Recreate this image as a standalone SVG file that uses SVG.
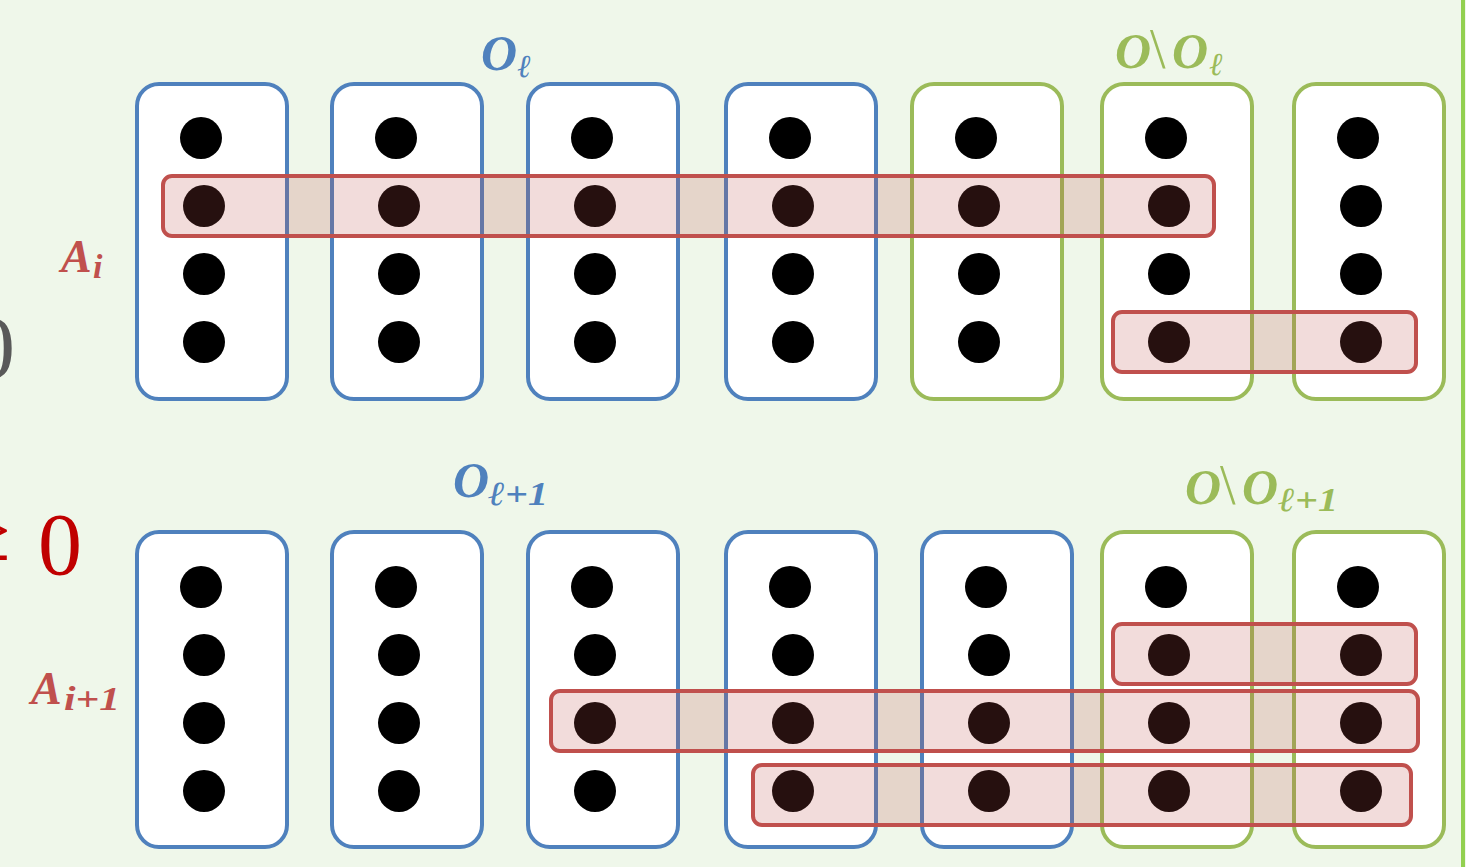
<svg xmlns="http://www.w3.org/2000/svg" width="1466" height="867" viewBox="0 0 1466 867">
<style>
.col{fill:#fff;stroke-width:4}
.b{stroke:#4F81BD}
.g{stroke:#9BBB59}
.hl{fill:#C0504D;fill-opacity:0.2;stroke:#C0504D;stroke-width:4}
.d{fill:#000}
.lab{font-family:"Liberation Serif",serif;font-weight:bold;font-style:italic}
.bs{font-style:normal;font-weight:normal;font-size:56px}
</style>
<defs>
<g id="dots4">
<circle cx="64" cy="0" r="21" class="d"/>
<circle cx="67" cy="68" r="21" class="d"/>
<circle cx="67" cy="136" r="21" class="d"/>
<circle cx="67" cy="204" r="21" class="d"/>
</g>
</defs>
<rect width="1466" height="867" fill="#EFF7EA"/>
<rect x="1461" y="0" width="4" height="867" fill="#92D050"/>
<text x="-29" y="377" font-family="Liberation Serif,serif" font-size="88" fill="#595959">0</text>
<text x="-38" y="560" font-family="Liberation Serif,serif" font-size="88" fill="#C00000">≥</text>
<text x="38" y="574" font-family="Liberation Serif,serif" font-size="88" fill="#C00000">0</text>

<g id="top-row">
<g id="t1"><rect x="137" y="84" width="150" height="315" rx="22" class="col b"/><use href="#dots4" x="137" y="138"/></g>
<g id="t2"><rect x="332" y="84" width="150" height="315" rx="22" class="col b"/><use href="#dots4" x="332" y="138"/></g>
<g id="t3"><rect x="528" y="84" width="150" height="315" rx="22" class="col b"/><use href="#dots4" x="528" y="138"/></g>
<g id="t4"><rect x="726" y="84" width="150" height="315" rx="22" class="col b"/><use href="#dots4" x="726" y="138"/></g>
<g id="t5"><rect x="912" y="84" width="150" height="315" rx="22" class="col g"/><use href="#dots4" x="912" y="138"/></g>
<g id="t6"><rect x="1102" y="84" width="150" height="315" rx="22" class="col g"/><use href="#dots4" x="1102" y="138"/></g>
<g id="t7"><rect x="1294" y="84" width="150" height="315" rx="22" class="col g"/><use href="#dots4" x="1294" y="138"/></g>
</g>

<g id="bottom-row">
<g id="b1"><rect x="137" y="532" width="150" height="315" rx="22" class="col b"/><use href="#dots4" x="137" y="587"/></g>
<g id="b2"><rect x="332" y="532" width="150" height="315" rx="22" class="col b"/><use href="#dots4" x="332" y="587"/></g>
<g id="b3"><rect x="528" y="532" width="150" height="315" rx="22" class="col b"/><use href="#dots4" x="528" y="587"/></g>
<g id="b4"><rect x="726" y="532" width="150" height="315" rx="22" class="col b"/><use href="#dots4" x="726" y="587"/></g>
<g id="b5"><rect x="922" y="532" width="150" height="315" rx="22" class="col b"/><use href="#dots4" x="922" y="587"/></g>
<g id="b6"><rect x="1102" y="532" width="150" height="315" rx="22" class="col g"/><use href="#dots4" x="1102" y="587"/></g>
<g id="b7"><rect x="1294" y="532" width="150" height="315" rx="22" class="col g"/><use href="#dots4" x="1294" y="587"/></g>
</g>

<g id="highlights">
<rect x="163" y="176" width="1051" height="60" rx="9" class="hl"/>
<rect x="1113" y="312" width="303" height="60" rx="9" class="hl"/>
<rect x="1113" y="624" width="303" height="60" rx="9" class="hl"/>
<rect x="551" y="691" width="867" height="60" rx="9" class="hl"/>
<rect x="753" y="765" width="658" height="60" rx="9" class="hl"/>
</g>

<g id="labels">
<text class="lab" y="70" font-size="50" fill="#4F81BD"><tspan x="481">O</tspan><tspan x="517" y="77" font-size="32" font-weight="normal">ℓ</tspan></text>
<text class="lab" y="68" font-size="50" fill="#9BBB59"><tspan x="1115">O</tspan><tspan x="1150" class="bs">\</tspan><tspan x="1172">O</tspan><tspan x="1209" y="75" font-size="32" font-weight="normal">ℓ</tspan></text>
<text class="lab" y="497" font-size="50" fill="#4F81BD"><tspan x="453">O</tspan><tspan x="488" y="505" font-size="34" textLength="60" lengthAdjust="spacingAndGlyphs">ℓ+1</tspan></text>
<text class="lab" y="504" font-size="50" fill="#9BBB59"><tspan x="1185">O</tspan><tspan x="1220" class="bs">\</tspan><tspan x="1242">O</tspan><tspan x="1278" y="511" font-size="34" textLength="60" lengthAdjust="spacingAndGlyphs">ℓ+1</tspan></text>
<text class="lab" y="272" font-size="46" fill="#C0504D"><tspan x="61">A</tspan><tspan x="93" y="278" font-size="34">i</tspan></text>
<text class="lab" y="704" font-size="46" fill="#C0504D"><tspan x="31">A</tspan><tspan x="64" y="710" font-size="34" textLength="56" lengthAdjust="spacingAndGlyphs">i+1</tspan></text>
</g>
</svg>
